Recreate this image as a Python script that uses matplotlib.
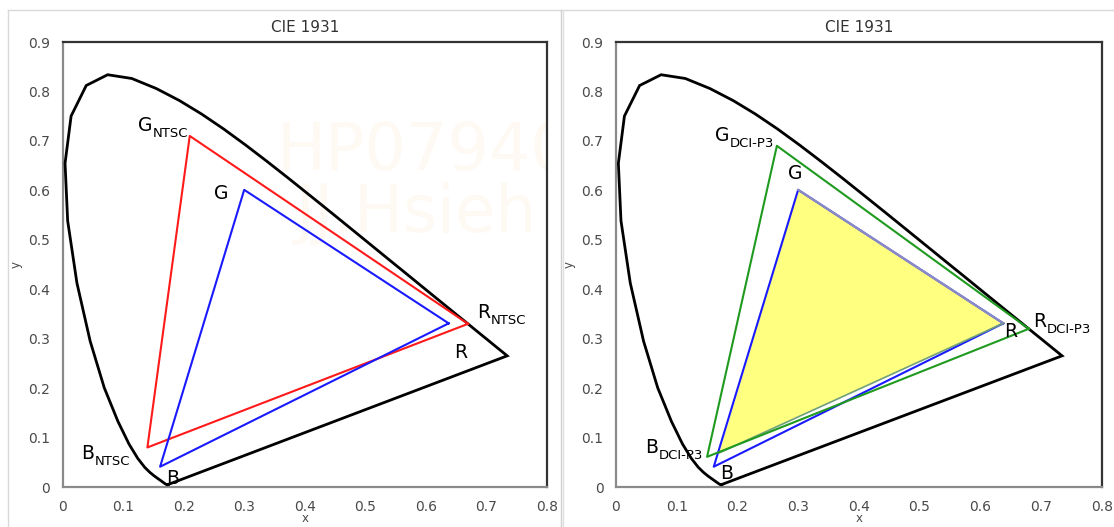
import matplotlib
matplotlib.use("Agg")
import matplotlib.pyplot as plt
from matplotlib.lines import Line2D

# CIE 1931 spectral locus (x, y), 380 nm -> 700 nm
locus_x = [0.1741, 0.1733, 0.1714, 0.1689, 0.1644, 0.1611, 0.1566, 0.1510, 0.1440,
           0.1355, 0.1241, 0.1096, 0.0913, 0.0687, 0.0454, 0.0235, 0.0082, 0.0039,
           0.0139, 0.0389, 0.0743, 0.1142, 0.1547, 0.1929, 0.2296, 0.2658, 0.3016,
           0.3373, 0.3731, 0.4087, 0.4441, 0.4788, 0.5125, 0.5448, 0.5752, 0.6029,
           0.6270, 0.6482, 0.6658, 0.6801, 0.6915, 0.7006, 0.7079, 0.7190, 0.7260,
           0.7300, 0.7347]
locus_y = [0.0050, 0.0048, 0.0051, 0.0069, 0.0109, 0.0138, 0.0177, 0.0227, 0.0297,
           0.0399, 0.0578, 0.0868, 0.1327, 0.2007, 0.2950, 0.4127, 0.5384, 0.6548,
           0.7502, 0.8120, 0.8338, 0.8262, 0.8059, 0.7816, 0.7543, 0.7243, 0.6923,
           0.6589, 0.6245, 0.5896, 0.5547, 0.5202, 0.4866, 0.4544, 0.4242, 0.3965,
           0.3725, 0.3514, 0.3340, 0.3197, 0.3083, 0.2993, 0.2920, 0.2809, 0.2740,
           0.2700, 0.2653]

# gamut triangles, order R, G, B
ntsc_x = [0.67, 0.21, 0.14]
ntsc_y = [0.33, 0.71, 0.08]
srgb_x = [0.638, 0.30, 0.161]
srgb_y = [0.331, 0.601, 0.041]
dci_x = [0.680, 0.265, 0.150]
dci_y = [0.320, 0.690, 0.061]
fill_x = [0.638, 0.30, 0.170]
fill_y = [0.331, 0.601, 0.069]

x_ticks = [0, 0.1, 0.2, 0.3, 0.4, 0.5, 0.6, 0.7, 0.8]
y_ticks = [0, 0.1, 0.2, 0.3, 0.4, 0.5, 0.6, 0.7, 0.8, 0.9]
x_ticklabels = ["0", "0.1", "0.2", "0.3", "0.4", "0.5", "0.6", "0.7", "0.8"]
y_ticklabels = ["0", "0.1", "0.2", "0.3", "0.4", "0.5", "0.6", "0.7", "0.8", "0.9"]

left_labels = [("G", "NTSC", 0.1245, 0.720), ("G", "", 0.250, 0.5825),
               ("R", "NTSC", 0.685, 0.342), ("R", "", 0.647, 0.261),
               ("B", "NTSC", 0.030, 0.0566), ("B", "", 0.171, 0.006)]
right_labels = [("G", "DCI-P3", 0.163, 0.700), ("G", "", 0.283, 0.623),
                ("R", "DCI-P3", 0.687, 0.3236), ("R", "", 0.639, 0.3034),
                ("B", "DCI-P3", 0.048, 0.0688), ("B", "", 0.171, 0.016)]


def closed(xs, ys):
    return list(xs) + [xs[0]], list(ys) + [ys[0]]


def setup_axes(ax):
    ax.set_xlim(0, 0.8)
    ax.set_ylim(0, 0.9)
    ax.set_xticks(x_ticks)
    ax.set_xticklabels(x_ticklabels)
    ax.set_yticks(y_ticks)
    ax.set_yticklabels(y_ticklabels)
    ax.tick_params(length=0, labelsize=10, labelcolor="#4a4a4a", pad=9)
    for side in ["top", "right"]:
        ax.spines[side].set_color("#333333")
        ax.spines[side].set_linewidth(1.6)
    for side in ["left", "bottom"]:
        ax.spines[side].set_color("#8a8a8a")
        ax.spines[side].set_linewidth(1.6)
    ax.set_title("CIE 1931", fontsize=11, color="#333333", pad=7)
    ax.set_xlabel("x", fontsize=8.5, color="#4a4a4a", labelpad=-1)
    ax.set_ylabel("y", fontsize=8.5, color="#4a4a4a", labelpad=4)
    lx, ly = closed(locus_x, locus_y)
    ax.plot(lx, ly, color="black", lw=2.0, solid_joinstyle="miter", zorder=3)


def put_labels(ax, labels):
    for main, sub, x, y in labels:
        t = ax.text(x, y, main, fontsize=13.5, ha="left", va="baseline",
                    color="black", zorder=6)
        if sub:
            ax.annotate(sub, xy=(1, 0), xycoords=t, xytext=(0.3, -3.5),
                        textcoords="offset points", fontsize=9.5,
                        ha="left", va="bottom", zorder=6)


fig = plt.figure(figsize=(11.14, 5.27), dpi=100)
ax1 = fig.add_axes([0.05628, 0.0759, 0.43447, 0.8444])
ax2 = fig.add_axes([0.55296, 0.0759, 0.43600, 0.8444])

# chart area borders
fig.add_artist(Line2D([8 / 1114, 8 / 1114], [0, 1 - 10 / 527], color="#d9d9d9", lw=1))
fig.add_artist(Line2D([8 / 1114, 1], [1 - 10 / 527, 1 - 10 / 527], color="#d9d9d9", lw=1))
fig.add_artist(Line2D([560.5 / 1114, 560.5 / 1114], [0, 1 - 10 / 527], color="#d0d0d0", lw=1))
fig.add_artist(Line2D([563 / 1114, 563 / 1114], [0, 1 - 10 / 527], color="#e0e0e0", lw=1))

# left: NTSC vs sRGB
setup_axes(ax1)
ax1.text(0.354, 0.641, "HP07940P", fontsize=47, color="#fef9f3", zorder=0, clip_on=True)
ax1.text(0.385, 0.516, "JJ.Hsieh", fontsize=47, color="#fef9f3", zorder=0, clip_on=True)
x, y = closed(ntsc_x, ntsc_y)
ax1.plot(x, y, color="#ff1a1a", lw=1.5, zorder=4)
x, y = closed(srgb_x, srgb_y)
ax1.plot(x, y, color="#1a1aff", lw=1.5, zorder=4)
put_labels(ax1, left_labels)

# right: DCI-P3 vs sRGB
setup_axes(ax2)
ax2.fill(fill_x, fill_y, color="#ffff80", lw=0, zorder=1)
x, y = closed(srgb_x, srgb_y)
ax2.plot(x, y, color="#1a1aff", lw=1.5, zorder=2)
ax2.plot(fill_x[:2], fill_y[:2], color="#8c8cc4", lw=1.6, zorder=2.5)
ax2.plot([fill_x[2], fill_x[0]], [fill_y[2], fill_y[0]], color="#6f9f7a", lw=1.2, zorder=2.5)
x, y = closed(dci_x, dci_y)
ax2.plot(x, y, color="#1f9a1f", lw=1.5, zorder=4)
put_labels(ax2, right_labels)

fig.savefig("out.png", dpi=100)
